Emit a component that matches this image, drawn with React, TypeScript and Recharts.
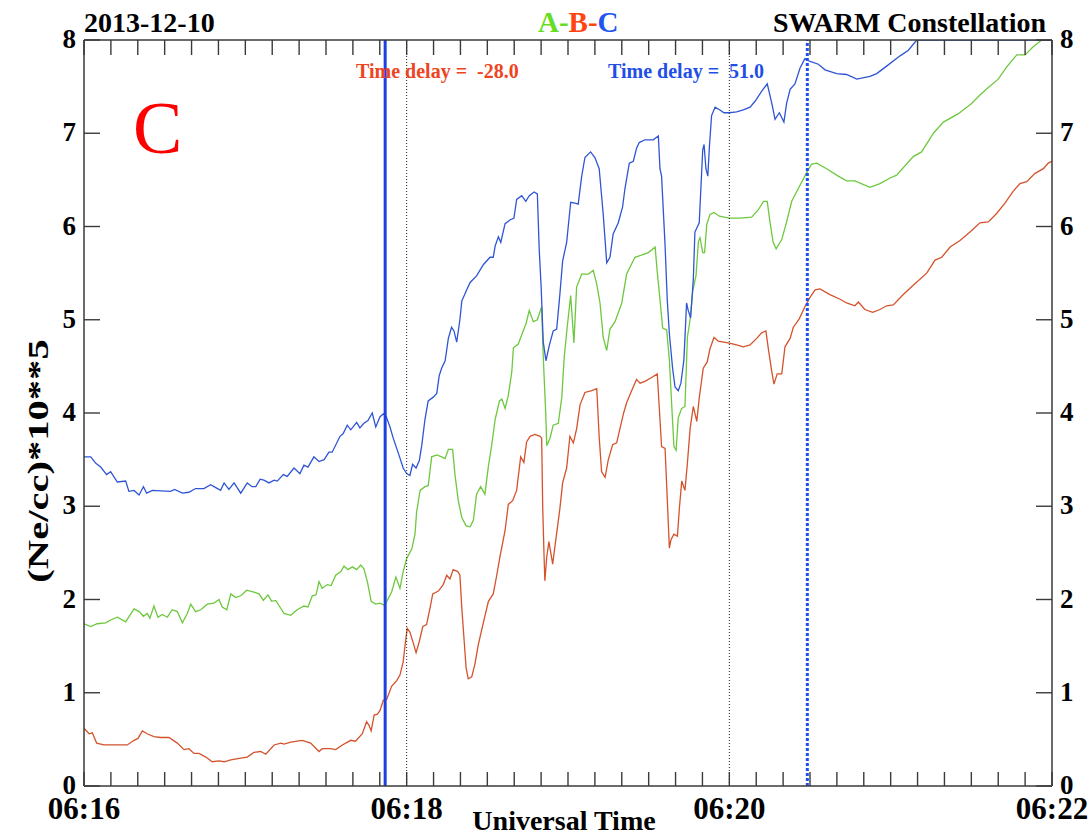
import React from 'react';
import { LineChart, Line, XAxis, YAxis, ReferenceLine } from 'recharts';

const FONT = '"Liberation Serif", "Times New Roman", serif';

// seconds after 06:16:00 UT
const timeTicks = [0,10,20,30,40,50,60,70,80,90,100,110,120,130,140,150,160,170,180,190,200,210,220,230,240,250,260,270,280,290,300,310,320,330,340,350,360];
const majorTicks = [0, 120, 240, 360];
const majorLabels = ['06:16', '06:18', '06:20', '06:22'];
const yTicks = [0, 1, 2, 3, 4, 5, 6, 7, 8];

// markers (seconds after 06:16:00)
const markerSolid = 112;
const markerDotted = [120, 240];
const markerBlueDotted = 269;

// Swarm C (blue)
const seriesC: [number, number][] = [[0,3.53],[2.5,3.53],[4.4,3.46],[6.2,3.42],[8.4,3.34],[9.9,3.37],[12.4,3.26],[15.5,3.27],[16.7,3.16],[18.6,3.17],[20.5,3.12],[22.1,3.21],[23.3,3.14],[25.4,3.17],[32.2,3.16],[33.7,3.18],[36.6,3.14],[39.0,3.15],[41.5,3.19],[44.6,3.19],[47.1,3.23],[49.0,3.20],[50.8,3.17],[52.1,3.25],[53.9,3.18],[55.8,3.25],[58.3,3.14],[60.7,3.25],[62.5,3.21],[63.9,3.21],[65.5,3.29],[66.9,3.28],[68.8,3.25],[70.7,3.28],[71.9,3.27],[74.1,3.34],[75.6,3.32],[78.1,3.41],[80.3,3.35],[81.8,3.44],[83.3,3.42],[85.5,3.53],[87.4,3.48],[89.3,3.50],[91.1,3.58],[92.3,3.58],[95.2,3.75],[96.4,3.78],[97.9,3.87],[99.2,3.82],[101.4,3.90],[102.6,3.84],[104.1,3.89],[105.6,3.92],[107.2,4.00],[108.5,3.85],[110.1,3.96],[111.3,3.99],[112.3,3.97],[113.8,3.85],[115.0,3.73],[116.9,3.57],[118.7,3.41],[120.0,3.35],[121.2,3.33],[122.2,3.45],[123.5,3.41],[124.7,3.49],[125.6,3.65],[126.8,3.93],[128.0,4.13],[129.9,4.17],[131.2,4.21],[132.1,4.40],[133.0,4.48],[134.3,4.56],[135.5,4.80],[136.7,4.92],[137.6,4.88],[138.6,4.76],[139.8,5.00],[140.5,5.20],[142.3,5.32],[143.6,5.40],[146.0,5.47],[148.5,5.59],[151.0,5.67],[152.2,5.67],[152.9,5.79],[154.1,5.89],[155.0,5.83],[156.6,6.03],[158.4,6.07],[159.9,6.09],[160.9,6.29],[162.8,6.33],[164.3,6.27],[165.6,6.33],[167.4,6.37],[168.6,6.35],[169.3,5.75],[170.0,5.36],[170.8,4.76],[171.8,4.56],[173.0,4.72],[174.5,4.88],[175.8,4.90],[177.0,5.28],[178.0,5.63],[179.5,5.83],[181.0,6.26],[182.6,6.25],[183.8,6.24],[185.1,6.54],[186.3,6.74],[188.4,6.80],[190.0,6.74],[191.6,6.62],[193.1,6.13],[194.4,5.61],[195.6,5.67],[196.8,5.92],[198.7,6.04],[200.3,6.21],[201.2,6.41],[202.8,6.68],[204.3,6.70],[205.5,6.84],[206.5,6.90],[208.6,6.93],[211.7,6.93],[213.6,6.97],[214.2,6.62],[214.8,6.54],[216.1,5.80],[216.9,5.22],[217.7,4.85],[218.9,4.48],[219.8,4.28],[221.0,4.24],[222.0,4.32],[223.1,4.57],[224.1,5.18],[224.7,5.10],[225.6,5.02],[226.6,5.43],[227.2,5.94],[228.8,6.04],[230.1,6.82],[230.6,6.88],[231.3,6.62],[232.0,6.54],[232.6,6.86],[233.4,7.19],[234.7,7.28],[236.5,7.25],[238.0,7.22],[240.0,7.22],[242.7,7.23],[245.2,7.25],[247.7,7.28],[249.5,7.34],[252.0,7.45],[254.1,7.53],[255.8,7.32],[257.0,7.15],[258.6,7.22],[260.3,7.12],[261.3,7.32],[262.6,7.47],[264.4,7.53],[266.3,7.70],[268.1,7.80],[270.0,7.77],[273.1,7.74],[275.6,7.68],[279.9,7.64],[283.6,7.63],[287.4,7.58],[292.3,7.61],[294.8,7.64],[298.5,7.72],[303.5,7.83],[306.6,7.89],[309.7,8.0],[360,8.0]];

// Swarm A (green)
const seriesA: [number, number][] = [[0,1.74],[2.5,1.71],[4.9,1.74],[8.1,1.75],[9.9,1.78],[12.4,1.81],[15.5,1.76],[18.6,1.90],[20.5,1.87],[22.1,1.82],[23.5,1.85],[24.5,1.80],[26.0,1.93],[27.5,1.81],[29.1,1.84],[31.0,1.81],[32.8,1.89],[34.7,1.87],[36.6,1.75],[38.4,1.85],[39.7,1.95],[41.5,1.87],[43.4,1.89],[45.9,1.95],[48.3,1.96],[50.2,2.00],[51.4,1.92],[53.1,1.89],[54.6,2.06],[56.4,2.02],[58.3,2.04],[60.5,2.10],[63.2,2.08],[65.1,2.06],[66.7,1.99],[68.4,2.05],[69.8,1.98],[71.3,1.99],[74.4,1.85],[76.9,1.83],[79.3,1.89],[81.8,1.93],[83.3,1.92],[84.9,2.04],[86.3,2.05],[87.4,2.19],[88.6,2.12],[90.5,2.16],[91.9,2.15],[93.6,2.26],[95.5,2.30],[96.7,2.36],[98.2,2.32],[99.8,2.35],[101.4,2.32],[102.9,2.37],[104.1,2.33],[105.4,2.19],[106.8,1.98],[108.5,1.95],[110.1,1.96],[111.6,1.94],[112.6,1.98],[114.4,2.08],[116.0,2.24],[117.5,2.12],[118.7,2.30],[120.0,2.44],[121.9,2.54],[123.1,2.70],[123.7,2.94],[125.0,3.17],[126.8,3.21],[128.0,3.22],[129.3,3.53],[131.2,3.55],[133.0,3.53],[134.3,3.51],[135.5,3.61],[137.1,3.61],[138.0,3.33],[139.2,3.06],[140.5,2.88],[142.1,2.79],[143.6,2.78],[144.8,2.85],[146.0,3.13],[147.5,3.21],[149.1,3.13],[150.4,3.43],[151.6,3.65],[152.9,3.93],[154.5,4.13],[155.4,4.15],[156.6,4.05],[157.8,4.19],[159.1,4.44],[159.7,4.70],[161.5,4.74],[162.8,4.84],[164.4,4.96],[165.6,5.10],[167.1,4.98],[168.6,5.00],[170.2,5.14],[170.8,4.60],[171.7,4.01],[172.1,3.65],[173.3,3.73],[174.5,3.87],[176.4,3.89],[177.7,4.17],[178.6,4.60],[179.7,4.92],[181.0,5.26],[182.2,4.75],[183.2,5.35],[185.1,5.49],[187.6,5.49],[189.4,5.53],[190.7,5.38],[191.9,5.18],[193.1,4.81],[194.4,4.67],[195.6,4.90],[197.5,4.98],[200.0,5.18],[201.8,5.49],[203.7,5.60],[204.9,5.67],[207.0,5.69],[209.9,5.72],[212.4,5.78],[213.2,5.51],[214.2,5.22],[215.2,4.91],[216.7,4.89],[217.7,4.57],[218.6,4.07],[219.4,3.64],[220.2,3.60],[221.0,3.95],[222.3,4.05],[223.5,4.07],[224.4,4.81],[225.4,5.00],[226.4,5.31],[227.6,5.47],[228.5,5.84],[229.1,5.88],[230.1,5.72],[230.8,5.72],[231.6,6.02],[232.8,6.13],[234.3,6.15],[236.3,6.11],[240.0,6.09],[244.0,6.09],[248.3,6.10],[250.8,6.18],[252.7,6.27],[254.1,6.27],[255.1,6.05],[256.3,5.83],[257.4,5.76],[259.5,5.86],[261.3,6.05],[263.2,6.27],[265.7,6.41],[268.8,6.58],[270.6,6.67],[272.5,6.68],[276.2,6.62],[280.5,6.54],[283.6,6.49],[286.7,6.49],[292.3,6.42],[296.0,6.46],[299.8,6.52],[302.2,6.55],[308.4,6.75],[311.5,6.80],[315.9,7.00],[319.6,7.12],[325.2,7.21],[330.1,7.32],[333.2,7.41],[336.3,7.49],[340.0,7.58],[343.1,7.71],[346.9,7.84],[350.0,7.84],[353.1,7.93],[356.2,8.0],[360,8.0]];

// Swarm B (red)
const seriesB: [number, number][] = [[0,0.62],[1.9,0.56],[3.1,0.57],[4.7,0.46],[7.4,0.44],[16.1,0.44],[18.6,0.49],[20.1,0.51],[21.7,0.59],[23.5,0.56],[26.0,0.53],[28.5,0.52],[31.6,0.52],[34.7,0.46],[37.2,0.39],[39.0,0.40],[40.9,0.35],[42.8,0.35],[45.3,0.31],[47.7,0.26],[50.2,0.27],[52.1,0.26],[54.6,0.28],[58.3,0.30],[60.7,0.31],[63.2,0.36],[65.7,0.37],[67.6,0.34],[70.7,0.44],[73.2,0.46],[74.4,0.45],[76.9,0.47],[81.2,0.49],[84.3,0.46],[87.4,0.37],[88.6,0.40],[91.7,0.40],[93.6,0.39],[96.1,0.44],[99.2,0.49],[101.0,0.48],[103.5,0.56],[105.1,0.69],[106.0,0.65],[106.8,0.59],[107.9,0.76],[109.1,0.77],[110.1,0.81],[111.3,0.92],[112.6,0.93],[114.4,1.07],[116.3,1.13],[117.5,1.19],[118.7,1.33],[119.4,1.51],[120.2,1.69],[121.2,1.65],[122.5,1.53],[123.5,1.43],[124.7,1.55],[126.0,1.71],[127.4,1.73],[128.7,1.91],[129.7,2.06],[131.8,2.09],[133.6,2.16],[134.9,2.26],[136.1,2.22],[137.3,2.32],[139.0,2.30],[139.8,2.26],[140.5,1.91],[141.3,1.59],[142.1,1.27],[142.9,1.15],[144.2,1.17],[145.4,1.31],[146.6,1.51],[148.5,1.75],[150.4,1.98],[152.2,2.06],[153.5,2.26],[154.7,2.46],[156.6,2.74],[157.8,3.02],[159.4,3.06],[160.9,3.17],[162.4,3.53],[163.6,3.47],[164.6,3.69],[165.9,3.75],[167.7,3.77],[169.6,3.75],[170.2,3.73],[170.6,2.98],[171.1,2.46],[171.4,2.20],[172.1,2.46],[172.9,2.62],[173.6,2.50],[174.3,2.38],[175.2,2.58],[177.0,2.98],[178.0,3.25],[179.5,3.41],[180.7,3.75],[182.0,3.68],[183.2,3.83],[184.5,4.09],[186.3,4.22],[188.8,4.24],[190.7,4.26],[191.6,3.74],[192.5,3.37],[193.8,3.31],[195.0,3.50],[196.6,3.66],[198.1,3.68],[199.3,3.83],[200.6,3.99],[201.8,4.11],[203.7,4.24],[205.5,4.36],[206.8,4.32],[208.6,4.34],[211.1,4.38],[213.2,4.42],[214.0,4.03],[214.8,3.64],[216.1,3.62],[216.9,3.09],[217.7,2.55],[218.3,2.64],[219.4,2.70],[220.7,2.68],[221.4,2.97],[222.3,3.27],[223.5,3.17],[224.4,3.46],[225.4,3.83],[226.6,4.07],[227.9,3.91],[228.8,4.16],[230.3,4.48],[231.8,4.55],[232.8,4.69],[234.3,4.81],[235.9,4.77],[240.0,4.75],[242.7,4.73],[245.2,4.71],[247.7,4.73],[250.2,4.80],[252.0,4.86],[253.6,4.88],[254.5,4.69],[255.8,4.44],[256.6,4.31],[257.8,4.42],[259.5,4.42],[260.7,4.71],[262.6,4.80],[263.8,4.92],[266.0,5.01],[268.1,5.14],[270.0,5.24],[271.9,5.32],[273.7,5.33],[277.4,5.27],[281.2,5.22],[283.6,5.18],[286.7,5.15],[288.0,5.19],[290.4,5.11],[293.3,5.08],[296.0,5.11],[298.5,5.15],[301.0,5.16],[304.7,5.27],[308.4,5.37],[313.4,5.50],[316.5,5.64],[319.0,5.67],[322.1,5.78],[325.8,5.85],[329.5,5.94],[333.2,6.04],[336.3,6.05],[339.4,6.14],[342.5,6.25],[345.6,6.38],[348.1,6.46],[350.6,6.48],[353.7,6.57],[356.8,6.62],[358.6,6.68],[360,6.70]];

const toRows = (s: [number, number][]) => s.map(([t, v]) => ({ t, v }));
const rowsC = toRows(seriesC);
const rowsA = toRows(seriesA);
const rowsB = toRows(seriesB);

const AXIS = '#3a3a3a';
const COL_C = '#2f55d6';
const COL_A = '#6dc83e';
const COL_B = '#d4532c';

const BottomTick = (p: any) => {
  const { x, y, payload } = p;
  const i = majorTicks.indexOf(payload.value);
  return (
    <g>
      <line x1={x} y1={y} x2={x} y2={y - 14} stroke={AXIS} strokeWidth={1.4} />
      {i >= 0 && (
        <text x={x} y={y + 33} textAnchor="middle" fontFamily={FONT} fontWeight="bold" fontSize={31} fill="#000">
          {majorLabels[i]}
        </text>
      )}
    </g>
  );
};

const TopTick = (p: any) => {
  const { x, y } = p;
  return <line x1={x} y1={y} x2={x} y2={y + 15} stroke={AXIS} strokeWidth={1.4} />;
};

const LeftTick = (p: any) => {
  const { x, y, payload } = p;
  return (
    <g>
      <line x1={x} y1={y} x2={x + 16} y2={y} stroke={AXIS} strokeWidth={1.4} />
      <text x={x - 8} y={y + 8} textAnchor="end" fontFamily={FONT} fontWeight="bold" fontSize={27} fill="#000">
        {payload.value}
      </text>
    </g>
  );
};

const RightTick = (p: any) => {
  const { x, y, payload } = p;
  return (
    <g>
      <line x1={x} y1={y} x2={x - 16} y2={y} stroke={AXIS} strokeWidth={1.4} />
      <text x={x + 8} y={y + 8} textAnchor="start" fontFamily={FONT} fontWeight="bold" fontSize={27} fill="#000">
        {payload.value}
      </text>
    </g>
  );
};

export default function App() {
  return (
    <div style={{ position: 'absolute', left: 0, top: 0, width: 1090, height: 837, background: '#fff' }}>
      <LineChart width={1090} height={837} margin={{ top: 0, right: 0, bottom: 0, left: 0 }}>
        <XAxis
          xAxisId="b"
          type="number"
          dataKey="t"
          domain={[0, 360]}
          allowDataOverflow
          ticks={timeTicks}
          interval={0}
          height={51}
          tickSize={0}
          tickMargin={0}
          tick={<BottomTick />}
          axisLine={{ stroke: AXIS, strokeWidth: 1.5 }}
        />
        <XAxis
          xAxisId="t"
          orientation="top"
          type="number"
          dataKey="t"
          domain={[0, 360]}
          allowDataOverflow
          ticks={timeTicks}
          interval={0}
          height={40}
          tickSize={0}
          tickMargin={0}
          tick={<TopTick />}
          axisLine={{ stroke: AXIS, strokeWidth: 1.5 }}
        />
        <YAxis
          yAxisId="l"
          type="number"
          domain={[0, 8]}
          allowDataOverflow
          ticks={yTicks}
          interval={0}
          width={84}
          tickSize={0}
          tickMargin={0}
          tick={<LeftTick />}
          axisLine={{ stroke: AXIS, strokeWidth: 1.5 }}
        />
        <YAxis
          yAxisId="r"
          orientation="right"
          type="number"
          domain={[0, 8]}
          allowDataOverflow
          ticks={yTicks}
          interval={0}
          width={38}
          tickSize={0}
          tickMargin={0}
          tick={<RightTick />}
          axisLine={{ stroke: AXIS, strokeWidth: 1.5 }}
        />
        <Line xAxisId="b" yAxisId="l" data={rowsB} dataKey="v" stroke={COL_B} strokeWidth={1.3} dot={false} isAnimationActive={false} />
        <Line xAxisId="b" yAxisId="l" data={rowsA} dataKey="v" stroke={COL_A} strokeWidth={1.3} dot={false} isAnimationActive={false} />
        <Line xAxisId="b" yAxisId="l" data={rowsC} dataKey="v" stroke={COL_C} strokeWidth={1.3} dot={false} isAnimationActive={false} />
        {markerDotted.map((m) => (
          <ReferenceLine key={m} xAxisId="b" yAxisId="l" x={m} stroke="#222" strokeWidth={1} strokeDasharray="1 2" />
        ))}
        <ReferenceLine xAxisId="b" yAxisId="l" x={markerSolid} stroke="#1d40e0" strokeWidth={3} />
        <ReferenceLine xAxisId="b" yAxisId="l" x={markerBlueDotted} stroke="#1e50f0" strokeWidth={3} strokeDasharray="3 2" />
      </LineChart>
      <svg width={1090} height={837} style={{ position: 'absolute', left: 0, top: 0, pointerEvents: 'none' }}>
        <text x={84} y={32} fontFamily={FONT} fontWeight="bold" fontSize={28} fill="#000">2013-12-10</text>
        <text x={538} y={32} fontFamily={FONT} fontWeight="bold" fontSize={29}>
          <tspan fill="#66dd22">A-</tspan>
          <tspan fill="#ff4411">B-</tspan>
          <tspan fill="#2255ee">C</tspan>
        </text>
        <text x={1046} y={32} textAnchor="end" fontFamily={FONT} fontWeight="bold" fontSize={28} fill="#000">SWARM Constellation</text>
        <text x={356} y={78} fontFamily={FONT} fontWeight="bold" fontSize={20} fill="#ee4422" style={{ whiteSpace: 'pre' }}>{'Time delay =  -28.0'}</text>
        <text x={608} y={78} fontFamily={FONT} fontWeight="bold" fontSize={20} fill="#1f4fe6" style={{ whiteSpace: 'pre' }}>{'Time delay =  51.0'}</text>
        <text x={133} y={153} fontFamily={FONT} fontSize={74} fill="#ff0000">C</text>
        <text x={564} y={830} textAnchor="middle" fontFamily={FONT} fontWeight="bold" fontSize={28} fill="#000">Universal Time</text>
        <text x={0} y={0} transform="translate(48,461) rotate(-90) scale(1.4,1)" textAnchor="middle" fontFamily={FONT} fontWeight="bold" fontSize={29} fill="#000">(Ne/cc)*10**5</text>
      </svg>
    </div>
  );
}
